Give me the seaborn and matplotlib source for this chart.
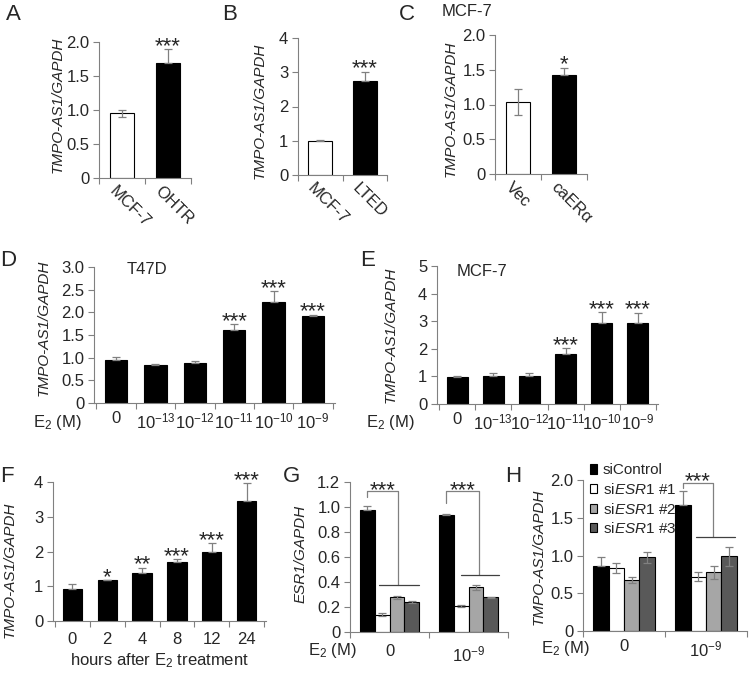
import numpy as np
import pandas as pd
import matplotlib
matplotlib.use('Agg')
import matplotlib.pyplot as plt
import matplotlib.transforms as mtransforms
from matplotlib.patches import Patch
from matplotlib.container import BarContainer
import seaborn as sns

# values
a_labels = ['MCF-7', 'OHTR']
a_vals = [0.95, 1.69]
a_err = [0.05, 0.20]
a_stars = ['', '***']

b_labels = ['MCF-7', 'LTED']
b_vals = [1.00, 2.74]
b_err = [0.01, 0.28]
b_stars = ['', '***']

c_labels = ['Vec', 'caERα']
c_vals = [1.04, 1.43]
c_err = [0.19, 0.10]
c_stars = ['', '*']

conc_labels = ['0', '$10^{-13}$', '$10^{-12}$', '$10^{-11}$', '$10^{-10}$', '$10^{-9}$']
d_vals = [0.95, 0.83, 0.88, 1.61, 2.22, 1.92]
d_err = [0.06, 0.03, 0.04, 0.13, 0.24, 0.03]
d_stars = ['', '', '', '***', '***', '***']

e_vals = [0.97, 1.03, 1.03, 1.82, 2.95, 2.92]
e_err = [0.04, 0.08, 0.10, 0.20, 0.37, 0.39]
e_stars = ['', '', '', '***', '***', '***']

f_hours = ['0', '2', '4', '8', '12', '24']
f_vals = [0.92, 1.17, 1.38, 1.69, 2.00, 3.46]
f_err = [0.14, 0.01, 0.15, 0.09, 0.24, 0.51]
f_stars = ['', '*', '**', '***', '***', '***']

si_labels = ['siControl', 'si$\\mathit{ESR1}$ #1', 'si$\\mathit{ESR1}$ #2', 'si$\\mathit{ESR1}$ #3']
si_colors = ['black', 'white', '#a6a6a6', '#595959']
e2_groups = ['0', '$10^{-9}$']

g_vals = [[0.98, 0.94], [0.14, 0.21], [0.28, 0.36], [0.24, 0.28]]
g_err = [[0.025, 0.008], [0.012, 0.008], [0.012, 0.020], [0.005, 0.004]]
# bracket: group, left start, top, low line, right offset, low line from/to (relative to group)
g_brackets = [(0, 1.08, 1.125, 0.38, 0.11, -0.13, 0.37),
              (1, 1.03, 1.125, 0.455, 0.13, -0.10, 0.39)]

h_vals = [[0.865, 1.67], [0.835, 0.72], [0.675, 0.775], [0.975, 0.99]]
h_err = [[0.12, 0.18], [0.07, 0.06], [0.045, 0.08], [0.07, 0.125]]
h_brackets = [(1, 1.90, 1.965, 1.24, 0.085, -0.12, 0.35)]

sns.set_theme(style='ticks', context='paper')
plt.rcParams['font.family'] = ['Liberation Sans', 'DejaVu Sans']
plt.rcParams['mathtext.fontset'] = 'custom'
plt.rcParams['mathtext.rm'] = 'Liberation Sans'
plt.rcParams['mathtext.it'] = 'Liberation Sans:italic'
plt.rcParams['mathtext.default'] = 'regular'
plt.rcParams['font.size'] = 12
plt.rcParams['axes.labelsize'] = 11
plt.rcParams['xtick.labelsize'] = 12
plt.rcParams['ytick.labelsize'] = 12

GRAY = '#808080'
W, H = 750, 677
fig = plt.figure(figsize=(7.5, 6.77), dpi=100)


def box(x0, x1, top, bottom):
    return [x0 / W, 1 - bottom / H, (x1 - x0) / W, (bottom - top) / H]


def style(ax, yticks, ytl, ylabel, ylx, yly, xpad):
    sns.despine(ax=ax)
    ax.set_ylim(yticks[0], yticks[-1])
    ax.set_yticks(yticks)
    ax.set_yticklabels(ytl)
    ax.set_xlabel('')
    ax.set_ylabel(ylabel, fontstyle='italic')
    ax.yaxis.set_label_coords(ylx, yly)
    n = len(ax.get_xticks())
    ax.set_xticks(np.arange(n + 1) - 0.5, minor=True)
    ax.tick_params(axis='x', which='major', length=0, pad=xpad)
    ax.tick_params(axis='x', which='minor', length=4, width=0.8, color=GRAY)
    ax.tick_params(axis='y', length=4, width=0.8, color=GRAY, pad=3)
    for s in ax.spines.values():
        s.set_color(GRAY)
        s.set_linewidth(0.8)


def add_err(ax, bars, vals, errs, colors):
    xs = [p.get_x() + p.get_width() / 2 for p in bars]
    # lower whisker is hidden on the black bars
    lower = [0 if c == 'black' else e for e, c in zip(errs, colors)]
    ax.errorbar(xs, vals, yerr=[lower, errs], fmt='none', ecolor=GRAY,
                elinewidth=0.9, capsize=3, capthick=0.9, zorder=4)
    return xs


def add_stars(ax, xs, vals, errs, stars):
    for x, v, e, s in zip(xs, vals, errs, stars):
        if s:
            ax.annotate(s, (x, v + e), xytext=(0, -2), textcoords='offset points',
                        ha='center', va='baseline', fontsize=16, annotation_clip=False)


def simple_panel(rect, labels, vals, errs, stars, colors, width):
    ax = fig.add_axes(rect)
    df = pd.DataFrame({'cond': labels, 'val': vals})
    sns.barplot(data=df, x='cond', y='val', hue='cond', palette=colors, legend=False,
                edgecolor='black', linewidth=0.8, width=width, ax=ax)
    bars = sorted(ax.patches, key=lambda p: p.get_x())
    xs = add_err(ax, bars, vals, errs, colors)
    add_stars(ax, xs, vals, errs, stars)
    return ax


def grouped_panel(rect, vals, errs, brackets):
    ax = fig.add_axes(rect)
    df = pd.DataFrame({'E2': e2_groups * len(si_labels),
                       'si': [s for s in si_labels for _ in e2_groups],
                       'val': [v for row in vals for v in row]})
    sns.barplot(data=df, x='E2', y='val', hue='si', order=e2_groups, hue_order=si_labels,
                palette=dict(zip(si_labels, si_colors)), legend=False,
                edgecolor='black', linewidth=0.8, width=0.75, ax=ax)
    bar_conts = [c for c in ax.containers if isinstance(c, BarContainer)]
    black_x = None
    for k, cont in enumerate(bar_conts):
        bars = sorted(cont.patches, key=lambda p: p.get_x())
        xs = add_err(ax, bars, vals[k], errs[k], [si_colors[k]] * len(bars))
        if k == 0:
            black_x = xs
    for grp, y0, ytop, ylow, xr, lf, lt in brackets:
        xl = black_x[grp]
        ax.plot([xl, xl, grp + xr, grp + xr], [y0, ytop, ytop, ylow],
                color=GRAY, lw=0.9, clip_on=False)
        ax.plot([grp + lf, grp + lt], [ylow, ylow], color='#404040', lw=0.9, clip_on=False)
        ax.annotate('***', ((xl + grp + xr) / 2, ytop), xytext=(0, -3.5),
                    textcoords='offset points', ha='center', va='baseline',
                    fontsize=16, annotation_clip=False)
    return ax


def rotate_labels(ax):
    shift = mtransforms.ScaledTranslation(-5 / 100, 0, fig.dpi_scale_trans)
    for lab in ax.get_xticklabels():
        lab.set_rotation(-45)
        lab.set_ha('left')
        lab.set_va('top')
        lab.set_rotation_mode('anchor')
        lab.set_transform(lab.get_transform() + shift)


ylab = 'TMPO-AS1/GAPDH'

# A
ax = simple_panel(box(99, 191, 42, 178), a_labels, a_vals, a_err, a_stars, ['white', 'black'], 0.54)
style(ax, [0, 0.5, 1.0, 1.5, 2.0], ['0', '0.5', '1.0', '1.5', '2.0'], ylab, -0.37, 0.54, 4)
rotate_labels(ax)

# B
ax = simple_panel(box(298, 387, 38, 175), b_labels, b_vals, b_err, b_stars, ['white', 'black'], 0.54)
style(ax, [0, 1, 2, 3, 4], ['0', '1', '2', '3', '4'], ylab, -0.35, 0.47, 4)
rotate_labels(ax)

# C
ax = simple_panel(box(495, 587, 35, 174), c_labels, c_vals, c_err, c_stars, ['white', 'black'], 0.54)
style(ax, [0, 0.5, 1.0, 1.5, 2.0], ['0', '0.5', '1.0', '1.5', '2.0'], ylab, -0.41, 0.47, 4)
rotate_labels(ax)
fig.text(442 / W, 1 - 11 / H, 'MCF-7', ha='left', va='center', fontsize=12)

# D
ax = simple_panel(box(94, 335, 267, 403), conc_labels, d_vals, d_err, d_stars, ['black'] * 6, 0.57)
style(ax, [0, 0.5, 1.0, 1.5, 2.0, 2.5, 3.0], ['0', '0.5', '1.0', '1.5', '2.0', '2.5', '3.0'],
      ylab, -0.18, 0.55, 6)
ax.text(0.137, 0.98, 'T47D', transform=ax.transAxes, ha='left', va='center', fontsize=12)
ax.text(-0.05, -0.176, 'E$_2$ (M)', transform=ax.transAxes, ha='right', va='baseline')

# E
ax = simple_panel(box(437, 658, 266, 404), conc_labels, e_vals, e_err, e_stars, ['black'] * 6, 0.57)
style(ax, [0, 1, 2, 3, 4, 5], ['0', '1', '2', '3', '4', '5'], ylab, -0.18, 0.5, 6)
ax.text(0.09, 0.96, 'MCF-7', transform=ax.transAxes, ha='left', va='center', fontsize=12)
ax.text(-0.10, -0.167, 'E$_2$ (M)', transform=ax.transAxes, ha='right', va='baseline')

# F
ax = simple_panel(box(53, 266, 482, 621), f_hours, f_vals, f_err, f_stars, ['black'] * 6, 0.56)
style(ax, [0, 1, 2, 3, 4], ['0', '1', '2', '3', '4'], ylab, -0.17, 0.37, 8)
ax.set_xlabel('hours after E$_2$ treatment', labelpad=3, fontsize=12)

# G
ax = grouped_panel(box(350, 508, 482, 632), g_vals, g_err, g_brackets)
style(ax, [0, 0.2, 0.4, 0.6, 0.8, 1.0, 1.2], ['0', '0.2', '0.4', '0.6', '0.8', '1.0', '1.2'],
      'ESR1/GAPDH', -0.27, 0.52, 9)
ax.text(0.044, -0.153, 'E$_2$ (M)', transform=ax.transAxes, ha='right', va='baseline')

# H
ax = grouped_panel(box(583, 747, 480, 631), h_vals, h_err, h_brackets)
style(ax, [0, 0.5, 1.0, 1.5, 2.0], ['0', '0.5', '1.0', '1.5', '2.0'], ylab, -0.23, 0.49, 6)
ax.text(0.043, -0.146, 'E$_2$ (M)', transform=ax.transAxes, ha='right', va='baseline')
handles = [Patch(facecolor=c, edgecolor='black', linewidth=0.8) for c in si_colors]
ax.legend(handles, si_labels, loc='upper left', bbox_to_anchor=(0.04, 1.11), frameon=False,
          handlelength=0.5, handleheight=0.55, handletextpad=0.35, labelspacing=0.3,
          borderaxespad=0, borderpad=0, fontsize=11)

# panel letters
for letter, x, y in [('A', 13, 15), ('B', 230, 15), ('C', 407, 15), ('D', 8, 261),
                     ('E', 368, 261), ('F', 7, 476), ('G', 292, 476), ('H', 513, 477)]:
    fig.text(x / W, 1 - y / H, letter, ha='center', va='center', fontsize=16)

plt.savefig('out.png', dpi=100, facecolor='white')
